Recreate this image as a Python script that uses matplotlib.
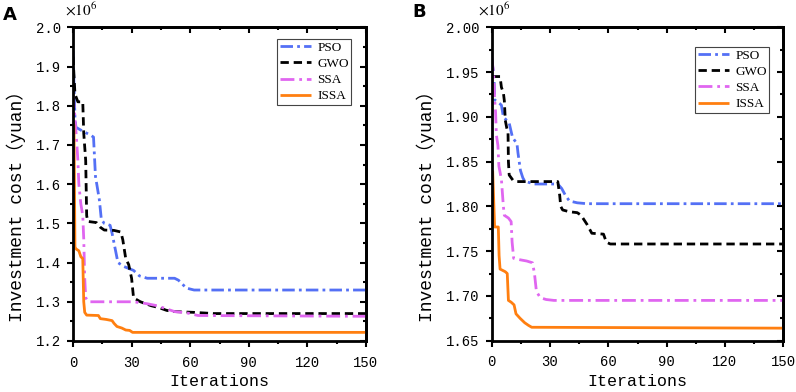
import matplotlib
matplotlib.use("Agg")
import matplotlib.pyplot as plt
from matplotlib.ticker import MultipleLocator, FormatStrFormatter

plt.rcParams['lines.scale_dashes'] = False
plt.rcParams['mathtext.fontset'] = 'stix'

# ---------------- data (values in 10^6 yuan) ----------------
# Panel A
pso_a_it = [0, 1, 1.5, 5, 9, 10.5, 11.5, 13.5, 14.5, 16, 19, 20, 21, 23, 26, 31, 34, 38, 52, 54, 58, 62, 150]
pso_a_v = [1.94, 1.77, 1.745, 1.735, 1.725, 1.72, 1.62, 1.56, 1.51, 1.50, 1.495, 1.475, 1.45, 1.40, 1.39, 1.38, 1.366, 1.36, 1.36, 1.355, 1.335, 1.33, 1.33]

gwo_a_it = [0, 1, 2.5, 5, 5.5, 6.5, 7, 7.5, 12, 14, 16, 21, 24.5, 25.5, 27, 28.5, 30, 31, 34.5, 40, 44, 48, 52, 62, 72, 150]
gwo_a_v = [1.925, 1.83, 1.81, 1.81, 1.73, 1.66, 1.52, 1.505, 1.502, 1.49, 1.483, 1.482, 1.478, 1.458, 1.41, 1.395, 1.36, 1.31, 1.30, 1.29, 1.285, 1.278, 1.275, 1.273, 1.27, 1.27]

ssa_a_it = [0, 1, 2, 2.5, 3, 4, 5, 5.5, 6, 6.5, 8, 31, 38, 43, 46, 52, 58, 64, 150]
ssa_a_v = [1.83, 1.77, 1.70, 1.66, 1.60, 1.55, 1.52, 1.46, 1.36, 1.31, 1.30, 1.30, 1.295, 1.29, 1.285, 1.275, 1.272, 1.265, 1.263]

issa_a_it = [0, 0.5, 1, 1.5, 3, 4, 5, 5.5, 6, 7, 13, 14, 17, 20, 21, 22.5, 25, 27, 29, 30.5, 150]
issa_a_v = [1.76, 1.75, 1.44, 1.435, 1.43, 1.415, 1.41, 1.30, 1.273, 1.266, 1.265, 1.257, 1.255, 1.252, 1.245, 1.237, 1.233, 1.228, 1.227, 1.222, 1.222]

# Panel B
pso_b_it = [0, 1.2, 1.5, 4, 5, 6, 9, 10.7, 13, 13.5, 14.8, 16, 17, 22, 34, 36, 38, 40, 44, 49, 150]
pso_b_v = [1.965, 1.944, 1.919, 1.915, 1.913, 1.90, 1.893, 1.877, 1.87, 1.86, 1.84, 1.832, 1.828, 1.825, 1.825, 1.82, 1.812, 1.806, 1.804, 1.803, 1.803]

gwo_b_it = [0, 4.3, 5, 6, 6.5, 7, 7.8, 8.4, 8.6, 9, 11, 12.5, 34, 35, 35.5, 36.5, 40, 44, 46, 49, 51.5, 57.5, 59, 61, 150]
gwo_b_v = [1.945, 1.945, 1.933, 1.927, 1.918, 1.896, 1.887, 1.882, 1.85, 1.835, 1.829, 1.8277, 1.8277, 1.812, 1.80, 1.796, 1.794, 1.793, 1.79, 1.78, 1.77, 1.769, 1.76, 1.758, 1.758]

ssa_b_it = [0, 1, 1.5, 2, 2.4, 3.2, 3.7, 5, 6, 6.5, 8.6, 10, 10.5, 11.3, 13, 18, 21, 22, 23, 25, 28, 32, 150]
ssa_b_v = [1.967, 1.948, 1.92, 1.905, 1.88, 1.868, 1.845, 1.83, 1.80, 1.79, 1.787, 1.783, 1.76, 1.742, 1.741, 1.739, 1.737, 1.725, 1.705, 1.698, 1.696, 1.695, 1.695]

issa_b_it = [0.5, 1.5, 3.4, 3.8, 4.3, 7, 8, 8.6, 10, 11.5, 12.5, 14.6, 17, 19, 20.6, 150]
issa_b_v = [1.84, 1.777, 1.777, 1.745, 1.73, 1.727, 1.725, 1.695, 1.693, 1.69, 1.68, 1.675, 1.67, 1.667, 1.665, 1.664]

labels = ["PSO", "GWO", "SSA", "ISSA"]

# ---------------- styles ----------------
colors = ["#5470F5", "#000000", "#E066F0", "#FF7F10"]
dashes = [(9, 3, 2, 3), (6, 3.5), (10, 3.5, 2, 3.5), None]
LW = 2.0

mono = "Liberation Mono"

fig = plt.figure(figsize=(7.96, 3.92), dpi=100)
W, H = 796, 392


def make_axes(x0, x1, y_top, y_bot):
    return fig.add_axes([x0 / W, 1 - y_bot / H, (x1 - x0) / W, (y_bot - y_top) / H])


ax_a = make_axes(73, 366, 27.3, 341)
ax_b = make_axes(491.7, 783.3, 27.3, 340.7)

panels = [
    (ax_a, [(pso_a_it, pso_a_v), (gwo_a_it, gwo_a_v), (ssa_a_it, ssa_a_v), (issa_a_it, issa_a_v)],
     (1.2, 2.0), 0.1, 0.05, "%.1f", (0.696, 0.963), -0.159),
    (ax_b, [(pso_b_it, pso_b_v), (gwo_b_it, gwo_b_v), (ssa_b_it, ssa_b_v), (issa_b_it, issa_b_v)],
     (1.65, 2.0), 0.05, 0.025, "%.2f", (0.697, 0.938), -0.191),
]

for ax, series, ylim, ymaj, ymin, fmt, legpos, ylx in panels:
    for (it, v), c, d, lab in zip(series, colors, dashes, labels):
        ln, = ax.plot(it, v, color=c, lw=LW, label=lab, solid_capstyle='butt', dash_capstyle='butt')
        if d is not None:
            ln.set_dashes(d)
    ax.set_xlim(0, 150)
    ax.set_ylim(*ylim)
    ax.xaxis.set_major_locator(MultipleLocator(30))
    ax.xaxis.set_minor_locator(MultipleLocator(15))
    ax.yaxis.set_major_locator(MultipleLocator(ymaj))
    ax.yaxis.set_minor_locator(MultipleLocator(ymin))
    ax.yaxis.set_major_formatter(FormatStrFormatter(fmt))
    ax.tick_params(which='major', direction='out', length=4.5, width=1.5, pad=4)
    ax.tick_params(axis='x', which='major', pad=6)
    ax.tick_params(which='minor', direction='out', length=2.5, width=1.5)
    for lab in ax.get_xticklabels() + ax.get_yticklabels():
        lab.set_fontfamily(mono)
        lab.set_fontsize(10)
    for sp in ax.spines.values():
        sp.set_linewidth(2)
    # mirrored inward ticks on top/right
    secx = ax.secondary_xaxis('top')
    secx.xaxis.set_major_locator(MultipleLocator(30))
    secx.xaxis.set_minor_locator(MultipleLocator(15))
    secx.tick_params(which='major', direction='in', length=4.5, width=1.5, labeltop=False)
    secx.tick_params(which='minor', direction='in', length=2.5, width=1.5, labeltop=False)
    secx.spines['top'].set_linewidth(2)
    secy = ax.secondary_yaxis('right')
    secy.yaxis.set_major_locator(MultipleLocator(ymaj))
    secy.yaxis.set_minor_locator(MultipleLocator(ymin))
    secy.tick_params(which='major', direction='in', length=4.5, width=1.5, labelright=False)
    secy.tick_params(which='minor', direction='in', length=2.5, width=1.5, labelright=False)
    secy.spines['right'].set_linewidth(2)

    ax.set_xlabel("Iterations", fontfamily=mono, fontsize=12)
    ax.xaxis.set_label_coords(0.5, -0.105)
    ax.set_ylabel("Investment cost（yuan）", family=[mono, "Noto Sans CJK SC"], fontsize=13)
    ax.yaxis.set_label_coords(ylx, 0.443)

    leg = ax.legend(loc='upper left', bbox_to_anchor=legpos, borderaxespad=0,
                    prop={'family': 'Liberation Serif', 'size': 9.5},
                    frameon=True, fancybox=False, edgecolor='#444444', framealpha=1,
                    borderpad=0.2, handlelength=2.4, handletextpad=0.45, labelspacing=0.3)
    leg.get_frame().set_linewidth(0.8)

# multiplier texts and panel letters
fig.text(65 / W, 1 - 10 / H, r"$\times10^{6}$", fontsize=11, va='center', ha='left')
fig.text(478 / W, 1 - 10 / H, r"$\times10^{6}$", fontsize=11, va='center', ha='left')
fig.text(3 / W, 1 - 15 / H, "A", fontsize=13, fontweight='bold', family='DejaVu Sans', va='center', ha='left')
fig.text(412 / W, 1 - 12 / H, "B", fontsize=13, fontweight='bold', family='DejaVu Sans', va='center', ha='left')

fig.savefig("out.png", dpi=100)
